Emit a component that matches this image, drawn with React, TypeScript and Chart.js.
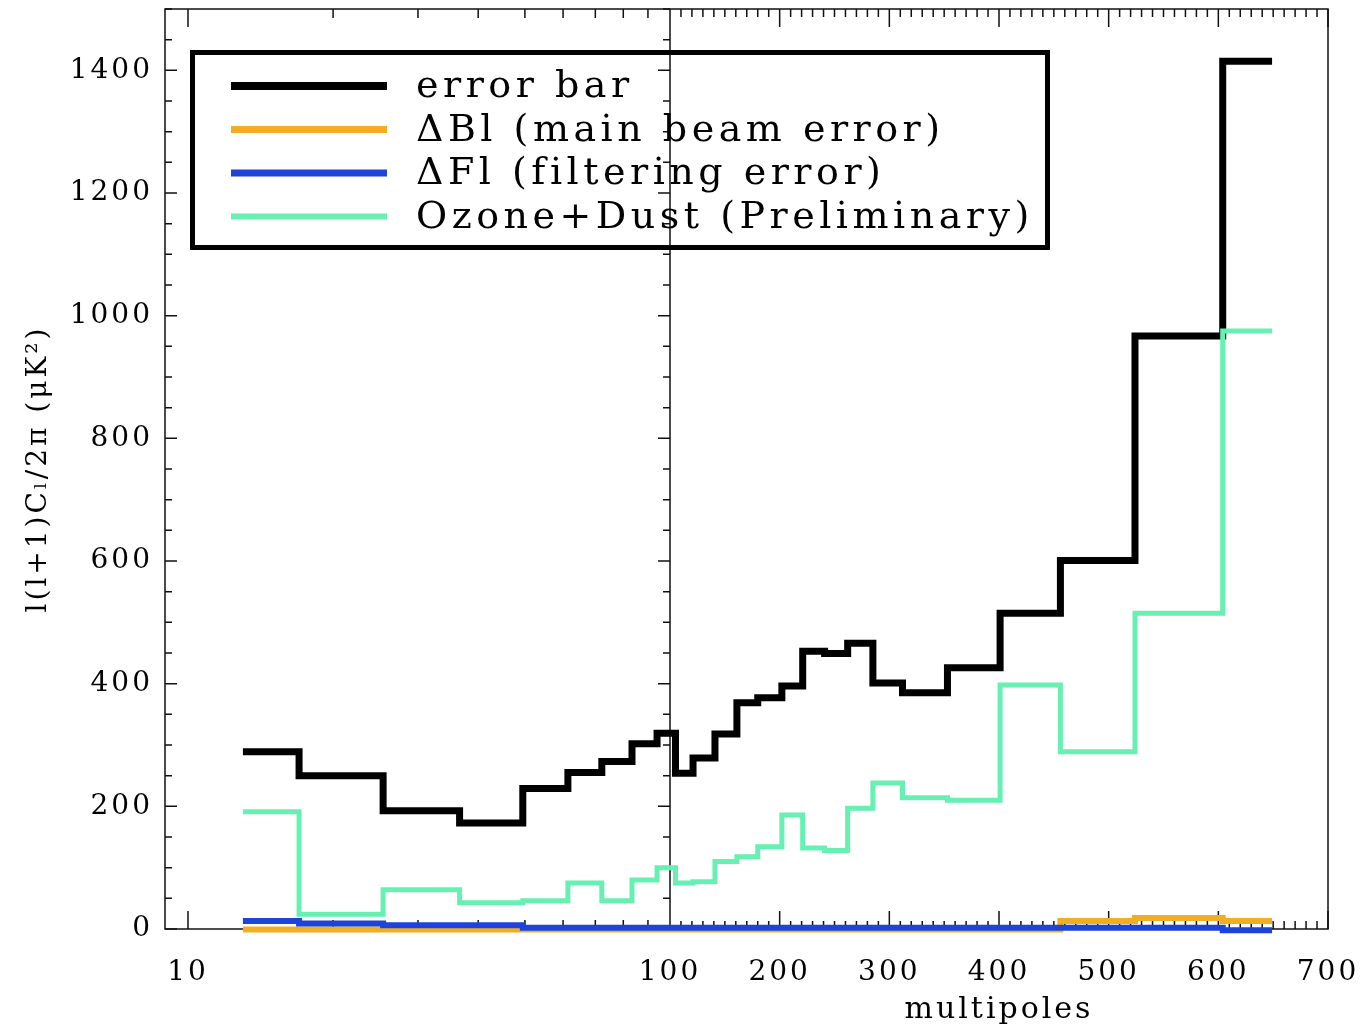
import { useEffect, useRef } from 'react';
import { Chart, registerables } from 'chart.js';

Chart.register(...registerables);

// Multipole bin edges (ℓ); bin i spans binEdges[i]..binEdges[i+1]
const binEdges = [13, 17, 25.4, 36.6, 49.5, 61.4, 72.2, 83.4, 94, 105, 121, 141, 161, 180, 202, 221, 241, 262, 285, 312, 353, 401, 456, 524, 604, 649];

// Per-bin values, l(l+1)C_l/2π in μK²
const errorBar = [289, 250, 193, 173, 229, 255, 273, 302, 319, 254, 279, 318, 369, 377, 396, 453, 449, 466, 401, 385, 426, 515, 601, 967, 1415];
const beamError = [-1, -1, -1, -1, -1, -1, -1, -1, -1, -1, -1, -1, -1, -1, -1, -1, -1, -1, -1, -1, -1, -1, 13, 18, 13];
const filterError = [13, 9, 6, 6, 2, 2, 2, 2, 2, 2, 2, 2, 2, 2, 2, 2, 2, 2, 2, 2, 2, 2, 2, 2, -2];
const ozoneDust = [191, 24, 64, 43, 46, 75, 46, 80, 100, 75, 77, 110, 118, 134, 186, 132, 128, 197, 238, 214, 210, 398, 289, 515, 975];

const seriesLabels = ['error bar', 'ΔBl (main beam error)', 'ΔFl (filtering error)', 'Ozone+Dust (Preliminary)'];
const seriesColors = ['#000000', '#f2ae22', '#1c44d8', '#66f0b2'];
const seriesWidths = [7, 6, 6, 5];
const seriesValues = [errorBar, beamError, filterError, ozoneDust];

// Axis layout: logarithmic below ℓ=100, linear above
const splitAt = 100;
const logMin = 8.96;
const linMax = 700;
const yMax = 1500;
const logTicks = [10, 20, 30, 40, 50, 60, 70, 80, 90, 100];
const logLabels = [10, 100];
const linTicks = Array.from({ length: 61 }, (_, i) => 100 + i * 10);
const linLabels = [200, 300, 400, 500, 600, 700];
const yTicks = Array.from({ length: 31 }, (_, i) => i * 50);
const yLabels = [0, 200, 400, 600, 800, 1000, 1200, 1400];

const FONT = '"DejaVu Serif", serif';

type Pt = { x: number; y: number };

function splitSteps(values: number[]) {
  const left: Pt[] = [];
  const right: Pt[] = [];
  for (let i = 0; i < values.length; i++) {
    const x0 = binEdges[i];
    const x1 = binEdges[i + 1];
    const v = values[i];
    if (x1 <= splitAt) left.push({ x: x0, y: v });
    else if (x0 >= splitAt) right.push({ x: x0, y: v });
    else {
      left.push({ x: x0, y: v });
      left.push({ x: splitAt, y: v });
      right.push({ x: splitAt, y: v });
    }
  }
  right.push({ x: binEdges[binEdges.length - 1], y: values[values.length - 1] });
  return { left, right };
}

// Frame, divider and inward tick marks in the plotting style of the figure
const frameTicks = {
  id: 'frameTicks',
  beforeDatasetsDraw(chart: any) {
    const { ctx, chartArea } = chart;
    const { left, right, top, bottom } = chartArea;
    const ys = chart.scales.y;
    const xl = chart.scales.xlog;
    const xr = chart.scales.xlin;
    const xDiv = xl.getPixelForValue(splitAt);
    ctx.save();
    ctx.strokeStyle = '#111';
    ctx.lineWidth = 1.5;
    ctx.strokeRect(left, top, right - left, bottom - top);
    ctx.beginPath();
    ctx.moveTo(xDiv, top);
    ctx.lineTo(xDiv, bottom);
    for (const v of yTicks) {
      const py = ys.getPixelForValue(v);
      const len = v % 200 === 0 ? 12 : 7;
      ctx.moveTo(left, py);
      ctx.lineTo(left + len, py);
      ctx.moveTo(xDiv, py);
      ctx.lineTo(xDiv - len, py);
    }
    for (const v of logTicks) {
      const px = xl.getPixelForValue(v);
      const len = logLabels.includes(v) ? 18 : 9;
      ctx.moveTo(px, bottom);
      ctx.lineTo(px, bottom - len);
      ctx.moveTo(px, top);
      ctx.lineTo(px, top + len);
    }
    for (const v of linTicks) {
      const px = xr.getPixelForValue(v);
      const len = v % 100 === 0 ? 18 : 8;
      ctx.moveTo(px, bottom);
      ctx.lineTo(px, bottom - len);
      ctx.moveTo(px, top);
      ctx.lineTo(px, top + len);
    }
    ctx.stroke();
    ctx.restore();
  },
};

// Boxed legend inside the plot area
const boxLegend = {
  id: 'boxLegend',
  afterDraw(chart: any) {
    const { ctx } = chart;
    ctx.save();
    (ctx as any).letterSpacing = '4.5px';
    ctx.strokeStyle = '#000';
    ctx.lineWidth = 5;
    ctx.strokeRect(192.5, 52.5, 855, 195);
    const rowY = [86, 129.5, 173, 216.5];
    seriesLabels.forEach((label, i) => {
      ctx.beginPath();
      ctx.strokeStyle = seriesColors[i];
      ctx.lineWidth = seriesWidths[i] + 1;
      ctx.moveTo(231, rowY[i]);
      ctx.lineTo(387, rowY[i]);
      ctx.stroke();
      ctx.fillStyle = '#000';
      ctx.font = `38px ${FONT}`;
      ctx.textBaseline = 'alphabetic';
      ctx.textAlign = 'left';
      ctx.fillText(label, 416, rowY[i] + 11);
    });
    ctx.restore();
  },
};

const textSpacing = {
  id: 'textSpacing',
  beforeDraw(chart: any) {
    (chart.ctx as any).letterSpacing = '3px';
  },
  afterDatasetsDraw(chart: any) {
    (chart.ctx as any).letterSpacing = '0px';
  },
};

// keep the plot frame where the layout padding puts it
const noEdgePadding = (s: any) => {
  s.paddingLeft = 0;
  s.paddingRight = 0;
  s.paddingTop = 0;
  s.paddingBottom = 0;
};

export default function App() {
  const canvasRef = useRef<HTMLCanvasElement | null>(null);

  useEffect(() => {
    const canvas = canvasRef.current;
    if (!canvas) return;

    const datasets: any[] = [];
    seriesValues.forEach((values, i) => {
      const { left, right } = splitSteps(values);
      const common = {
        label: seriesLabels[i],
        borderColor: seriesColors[i],
        backgroundColor: seriesColors[i],
        borderWidth: seriesWidths[i],
        stepped: 'before',
        pointRadius: 0,
        fill: false,
        clip: false,
        borderJoinStyle: 'miter',
        borderCapStyle: 'butt',
        order: 4 - i,
        yAxisID: 'y',
      };
      datasets.push({ ...common, data: left, xAxisID: 'xlog' });
      datasets.push({ ...common, data: right, xAxisID: 'xlin' });
    });

    const tickFont = { family: FONT, size: 28 };

    const chart = new Chart(canvas, {
      type: 'line',
      data: { datasets },
      plugins: [textSpacing, frameTicks, boxLegend],
      options: {
        animation: false,
        responsive: false,
        layout: { padding: { left: 0, top: 9, right: 33, bottom: 0 } },
        plugins: { legend: { display: false }, tooltip: { enabled: false } },
        scales: {
          xlog: {
            type: 'logarithmic',
            position: 'bottom',
            stack: 'x',
            stackWeight: 505,
            min: logMin,
            max: splitAt,
            grid: { display: false },
            border: { display: false },
            afterBuildTicks: (s: any) => {
              s.ticks = logTicks.map((v) => ({ value: v }));
            },
            afterFit: (s: any) => {
              s.height = 102;
              noEdgePadding(s);
            },
            ticks: {
              autoSkip: false,
              maxRotation: 0,
              minRotation: 0,
              padding: 19,
              color: '#000',
              font: tickFont,
              callback: (v: any) => (logLabels.includes(Number(v)) ? String(v) : null),
            },
          },
          xlin: {
            type: 'linear',
            position: 'bottom',
            stack: 'x',
            stackWeight: 658,
            min: splitAt,
            max: linMax,
            grid: { display: false },
            border: { display: false },
            afterBuildTicks: (s: any) => {
              s.ticks = linTicks.map((v) => ({ value: v }));
            },
            afterFit: (s: any) => {
              s.height = 102;
              noEdgePadding(s);
            },
            ticks: {
              autoSkip: false,
              maxRotation: 0,
              minRotation: 0,
              padding: 19,
              color: '#000',
              font: tickFont,
              callback: (v: any) => (linLabels.includes(Number(v)) ? String(v) : null),
            },
            title: {
              display: true,
              text: 'multipoles',
              color: '#000',
              font: { family: FONT, size: 30 },
              padding: { top: 0, bottom: 3 },
            },
          },
          y: {
            type: 'linear',
            position: 'left',
            min: 0,
            max: yMax,
            grid: { display: false },
            border: { display: false },
            afterBuildTicks: (s: any) => {
              s.ticks = yTicks.map((v) => ({ value: v }));
            },
            afterFit: (s: any) => {
              s.width = 165;
              noEdgePadding(s);
            },
            ticks: {
              autoSkip: false,
              padding: 4,
              color: '#000',
              font: tickFont,
              callback: (v: any) => (yLabels.includes(Number(v)) ? String(v) : null),
            },
            title: {
              display: true,
              text: 'l(l+1)Cₗ/2π (μK²)',
              color: '#000',
              font: { family: FONT, size: 28 },
              padding: { top: 22, bottom: 0 },
            },
          },
        },
      } as any,
    });

    return () => chart.destroy();
  }, []);

  return (
    <div style={{ position: 'absolute', left: 0, top: 0, width: 1361, height: 1031, background: '#fff' }}>
      <canvas ref={canvasRef} width={1361} height={1031} />
    </div>
  );
}
